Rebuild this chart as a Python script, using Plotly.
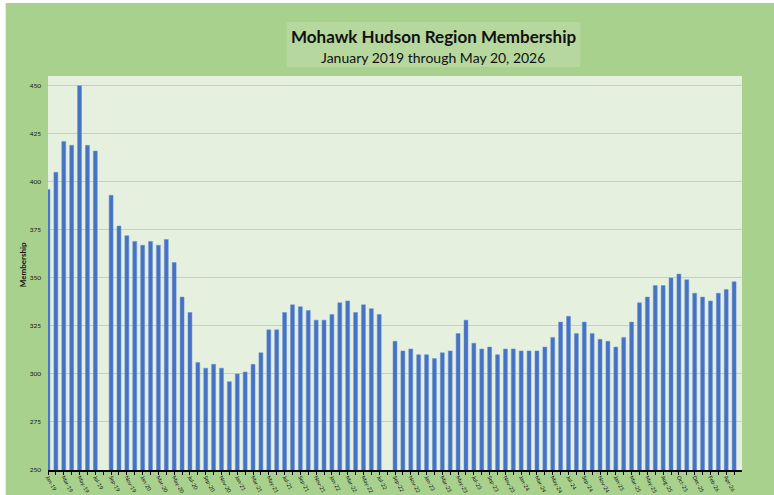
import plotly.graph_objects as go

# Month categories (Jul-25 is absent from the source data)
months = [
    "Jan-19", "Feb-19", "Mar-19", "Apr-19", "May-19", "Jun-19", "Jul-19", "Aug-19", "Sep-19", "Oct-19", "Nov-19", "Dec-19",
    "Jan-20", "Feb-20", "Mar-20", "Apr-20", "May-20", "Jun-20", "Jul-20", "Aug-20", "Sep-20", "Oct-20", "Nov-20", "Dec-20",
    "Jan-21", "Feb-21", "Mar-21", "Apr-21", "May-21", "Jun-21", "Jul-21", "Aug-21", "Sep-21", "Oct-21", "Nov-21", "Dec-21",
    "Jan-22", "Feb-22", "Mar-22", "Apr-22", "May-22", "Jun-22", "Jul-22", "Aug-22", "Sep-22", "Oct-22", "Nov-22", "Dec-22",
    "Jan-23", "Feb-23", "Mar-23", "Apr-23", "May-23", "Jun-23", "Jul-23", "Aug-23", "Sep-23", "Oct-23", "Nov-23", "Dec-23",
    "Jan-24", "Feb-24", "Mar-24", "Apr-24", "May-24", "Jun-24", "Jul-24", "Aug-24", "Sep-24", "Oct-24", "Nov-24", "Dec-24",
    "Jan-25", "Feb-25", "Mar-25", "Apr-25", "May-25", "Jun-25", "Aug-25", "Sep-25", "Oct-25", "Nov-25", "Dec-25",
    "Jan-26", "Feb-26", "Mar-26", "Apr-26", "May-26",
]

membership = [
    396, 405, 421, 419, 450, 419, 416, None, 393, 377, 372, 369,
    367, 369, 367, 370, 358, 340, 332, 306, 303, 305, 303, 296,
    300, 301, 305, 311, 323, 323, 332, 336, 335, 333, 328, 328,
    331, 337, 338, 332, 336, 334, 331, None, 317, 312, 313, 310,
    310, 308, 311, 312, 321, 328, 316, 313, 314, 310, 313, 313,
    312, 312, 312, 314, 319, 327, 330, 321, 327, 321, 318, 317,
    314, 319, 327, 337, 340, 346, 346, 350, 352, 349, 342,
    340, 338, 342, 344, 348,
]

y_ticks = [250, 275, 300, 325, 350, 375, 400, 425, 450]
x_ticktext = [m if i % 2 == 0 else "" for i, m in enumerate(months)]

title_text = "Mohawk Hudson Region Membership"
subtitle_text = "January 2019 through May 20, 2026"
y_title = "Membership"

GREEN = "#a9d18e"
PLOT_BG = "#e6f0df"
BOX_BG = "#b6d89e"
BAR = "#4472C4"

fig = go.Figure(
    go.Bar(
        x=months,
        y=membership,
        width=0.5,
        marker=dict(color=BAR, line=dict(color="#6a8fd4", width=0.5)),
        hoverinfo="x+y",
    )
)

fig.update_layout(
    width=774,
    height=495,
    margin=dict(l=48, r=32, t=76, b=25, pad=0, autoexpand=False),
    paper_bgcolor="white",
    plot_bgcolor=PLOT_BG,
    showlegend=False,
    font=dict(family="Lato, Carlito, sans-serif", color="#222"),
    shapes=[
        dict(type="rect", xref="paper", yref="paper", x0=-0.061, x1=1.2, y0=-0.3, y1=1.185,
             fillcolor=GREEN, line=dict(width=0), layer="below"),
        dict(type="rect", xref="paper", yref="paper", x0=0, x1=1, y0=0, y1=1,
             fillcolor=PLOT_BG, line=dict(width=0), layer="below"),
        dict(type="rect", xref="paper", yref="paper", x0=0.344, x1=0.767, y0=1.023, y1=1.137,
             fillcolor=BOX_BG, line=dict(width=0), layer="below"),
    ],
    annotations=[
        dict(text="<b>" + title_text + "</b>", xref="paper", yref="paper", x=0.555, y=1.099,
             xanchor="center", yanchor="middle", showarrow=False,
             font=dict(size=17, color="#111", family="Lato, sans-serif")),
        dict(text=subtitle_text, xref="paper", yref="paper", x=0.555, y=1.048,
             xanchor="center", yanchor="middle", showarrow=False,
             font=dict(size=14, color="#111", family="Lato, sans-serif")),
        dict(text="<b>" + y_title + "</b>", xref="paper", yref="paper", x=-0.036, y=0.52,
             xanchor="center", yanchor="middle", textangle=-90, showarrow=False,
             font=dict(size=8, color="#111", family="Lato, sans-serif")),
    ],
)

fig.update_xaxes(
    type="category",
    range=[0, 88],
    automargin=False,
    tickmode="array",
    tickvals=months,
    ticktext=x_ticktext,
    tickangle=62,
    tickfont=dict(size=5.5, color="#111"),
    ticklabelstandoff=-3,
    ticks="outside",
    ticklen=3,
    tickwidth=1,
    tickcolor="black",
    showline=True,
    linecolor="black",
    linewidth=1.5,
    showgrid=False,
    zeroline=False,
)

fig.update_yaxes(
    range=[250, 455.1],
    automargin=False,
    tickmode="array",
    tickvals=y_ticks,
    ticktext=[str(v) for v in y_ticks],
    tickfont=dict(size=6.5, color="#111"),
    ticklabelstandoff=6,
    showgrid=True,
    gridcolor="#c6ccd4",
    gridwidth=1,
    showline=False,
    zeroline=False,
)

fig.write_html(
    "out.html",
    config={"displayModeBar": False},
    post_script="document.body.style.margin='0';document.body.style.padding='0';",
)
